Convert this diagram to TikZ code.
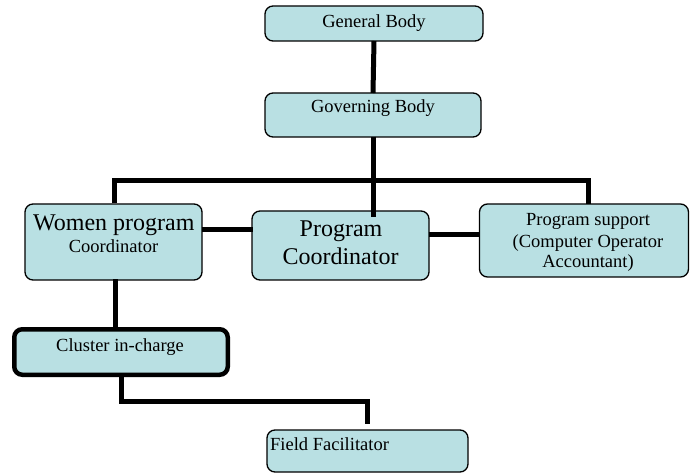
\documentclass[tikz,border=0pt]{standalone}
\usepackage{fontspec}
\setmainfont{Liberation Serif}
\definecolor{boxc}{RGB}{185,224,227}
\tikzset{
  box/.style={draw=black, fill=boxc, rounded corners=8pt, line width=1.3pt, inner sep=0pt, outer sep=0pt},
  txt/.style={inner sep=0pt, anchor=base, font=\fontsize{18.5}{21}\selectfont},
  bigtxt/.style={inner sep=0pt, anchor=base, font=\fontsize{24}{28}\selectfont},
  conn/.style={line width=5pt, draw=black},
}
\begin{document}
\begin{tikzpicture}[x=1pt, y=-1pt]
\useasboundingbox (0,0) rectangle (691,473);
% boxes
\node[box, minimum width=218pt, minimum height=35pt] (gb) at (374,23.5) {};
\node[box, minimum width=216pt, minimum height=44pt] (gov) at (373,115) {};
\node[box, minimum width=177pt, minimum height=76pt] (wpc) at (113.5,242) {};
\node[box, minimum width=177pt, minimum height=69pt] (pc) at (340.5,245.5) {};
\node[box, minimum width=209pt, minimum height=73pt] (ps) at (584,240.5) {};
\node[box, line width=4.5pt, minimum width=213.5pt, minimum height=45.5pt] (ci) at (121,352) {};
\node[box, minimum width=201pt, minimum height=42pt] (ff) at (367.5,451) {};
% texts
\node[txt] (t1) at (374,27.3) {General Body};
\node[txt] (t2) at (373,113) {Governing Body};
\node[bigtxt] (t3) at (113.8,231) {Women program};
\node[txt] (t4) at (113.5,253) {Coordinator};
\node[bigtxt] (t5) at (341,237) {Program};
\node[bigtxt] (t6) at (340.5,265) {Coordinator};
\node[txt] (t7) at (588,226) {Program support};
\node[txt] (t8) at (588,248) {(Computer Operator};
\node[txt] (t9) at (588,268) {Accountant)};
\node[txt] (t10) at (120,351) {Cluster in-charge};
\node[txt, anchor=base west] (t11) at (270,450) {Field Facilitator};
% connector coordinates
\coordinate (gbs) at (gb.south);
\coordinate (govs) at (gov.south);
\coordinate (pcin) at (373,217);
\coordinate (busl) at (114,181);
\coordinate (busr) at (588,181);
\coordinate (wpct) at (114,203.3);
\coordinate (pst) at (588,204.5);
\coordinate (wpce) at (201.5,230);
\coordinate (pcw) at (252.5,230);
\coordinate (pce) at (428.5,235);
\coordinate (psw) at (479.5,235);
\coordinate (wpcb) at (115,279.5);
\coordinate (cit) at (115,328);
\coordinate (cib) at (121,376);
\coordinate (ffend) at (367,424);
% connectors
\draw[conn] (gb.south) -- (gov.north);
\draw[conn] (gov.south) -- (pcin);
\draw[conn] (wpct) |- (busr) -- (pst);
\draw[conn] (wpce) -- (pcw);
\draw[conn] (pce) -- (psw);
\draw[conn] (wpcb) -- (cit);
\draw[conn] (cib) |- (367,401) -- (ffend);
\end{tikzpicture}
\end{document}
